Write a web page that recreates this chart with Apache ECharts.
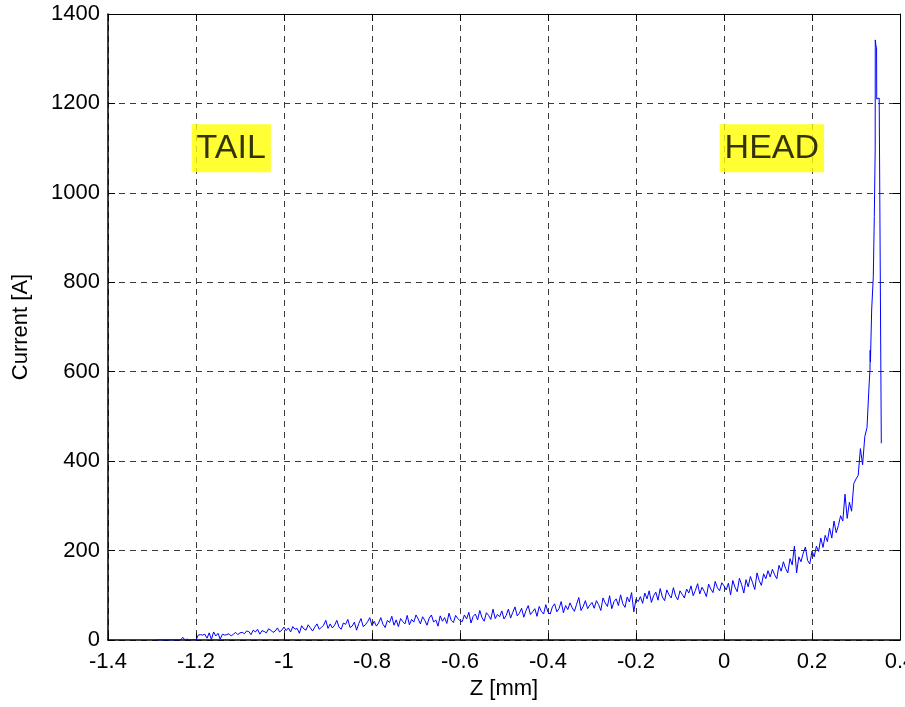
<!DOCTYPE html>
<html>
<head>
<meta charset="utf-8">
<title>Current profile along Z</title>
<script src="https://cdn.jsdelivr.net/npm/echarts@6/dist/echarts.min.js"></script>
<style>
  html, body { margin: 0; padding: 0; background: #fff; }
  #chart { width: 905px; height: 707px; }
</style>
</head>
<body>
<div id="chart"></div>
<script>
// Regularly sampled part of the profile: Z from -1.29 mm in steps of 0.005 mm
const zStart = -1.29;
const zStep = 0.005;
const currentSampled = [
  // -1.290 .. -1.200
  0, 0, 0, 0, 0, 0, 0, 0, 0, 0, 0, 0, 6, 0, 2, 0, 0, 1, 0,
  // -1.195 .. -1.100
  11, 12, 11, 13, 4, 16, 1, 18, 9, 15, 2, 13, 11, 12, 14, 9, 13, 17, 12, 16,
  // -1.095 .. -1.000
  17, 14, 20, 19, 12, 22, 18, 24, 13, 21, 19, 16, 25, 22, 17, 20, 27, 18, 22, 29,
  // -0.995 .. -0.900
  21, 27, 18, 30, 24, 26, 15, 32, 25, 22, 34, 27, 20, 29, 36, 24, 28, 33, 44, 26,
  // -0.895 .. -0.800
  36, 27, 33, 44, 29, 24, 38, 35, 46, 28, 31, 40, 22, 37, 48, 30, 34, 41, 50, 32,
  // -0.795 .. -0.700
  42, 31, 38, 50, 35, 28, 44, 39, 53, 33, 45, 30, 48, 41, 36, 55, 34, 46, 40, 56,
  // -0.695 .. -0.600
  47, 36, 52, 44, 33, 49, 56, 40, 45, 31, 54, 42, 50, 37, 60, 44, 39, 55, 48, 43,
  // -0.595 .. -0.500
  41, 56, 47, 62, 38, 53, 58, 45, 66, 50, 42, 61, 55, 46, 69, 48, 57, 52, 65, 47,
  // -0.495 .. -0.400
  55, 69, 49, 62, 74, 54, 60, 71, 51, 66, 77, 57, 63, 70, 53, 75, 64, 58, 79, 62,
  // -0.395 .. -0.300
  58, 74, 81, 63, 70, 86, 61, 77, 68, 83, 72, 64, 80, 95, 66, 75, 88, 70, 78, 84,
  // -0.295 .. -0.200
  71, 88, 79, 66, 94, 83, 75, 99, 70, 86, 92, 77, 101, 81, 73, 96, 85, 106, 63, 92,
  // -0.195 .. -0.100
  86, 97, 82, 105, 92, 110, 84, 99, 107, 89, 115, 96, 88, 112, 101, 94, 117, 98, 90, 110,
  // -0.095 .. 0.000
  102, 94, 114, 105, 121, 99, 111, 126, 103, 118, 109, 97, 125, 114, 106, 131, 117, 110, 128, 121,
  // 0.005 .. 0.100
  112, 127, 101, 133, 118, 108, 138, 124, 105, 135, 119, 142, 128, 113, 150, 133, 122, 148, 137, 155,
  // 0.105 .. 0.200
  141, 158, 146, 137, 167, 154, 175, 160, 150, 182, 168, 210, 150, 186, 175, 194, 208, 178, 170, 199,
  // 0.205 .. 0.300
  186, 210, 198, 228, 207, 234, 220, 250, 228, 266, 240, 256, 278, 266, 326, 272, 308, 288, 350, 360,
  // 0.305 .. 0.330
  368, 428, 392, 455, 475, 575
];

// Steep head of the profile, sampled irregularly
const zHead = [0.3318, 0.3322, 0.3328, 0.3356, 0.3393, 0.3416, 0.3436, 0.3438, 0.3452, 0.3468, 0.3471, 0.3527, 0.3575];
const currentHead = [604, 648, 622, 738, 812, 947, 1096, 1342, 1330, 1325, 1210, 1212, 440];

// Axis ranges and ticks
const zMin = -1.4, zMax = 0.4, zTick = 0.2;
const currentMin = 0, currentMax = 1400, currentTick = 200;

// Text annotations: [z, current, label]
const annotations = [
  [-1.21, 1100, 'TAIL'],
  [-0.01, 1100, 'HEAD']
];

const profile = [];
currentSampled.forEach((c, i) => {
  profile.push([+(zStart + i * zStep).toFixed(4), c]);
});
zHead.forEach((z, i) => profile.push([z, currentHead[i]]));

const FONT = '"Liberation Sans", Arial, Helvetica, sans-serif';
const fmt = v => String(+Number(v).toFixed(3));

const chart = echarts.init(document.getElementById('chart'), null, { renderer: 'canvas' });

const gridDash = { color: '#3a3a3a', width: 1, type: [6, 5] };
const boxLine = { color: '#000', width: 1 };

chart.setOption({
  animation: false,
  backgroundColor: '#ffffff',
  grid: { left: 108, right: 5, top: 14, bottom: 67, containLabel: false, outerBoundsMode: 'none' },
  xAxis: [
    {
      type: 'value', min: zMin, max: zMax, interval: zTick, position: 'bottom',
      axisLine: { onZero: false, lineStyle: { color: '#000', width: 1.5 } },
      axisTick: { inside: true, length: 7, lineStyle: { color: '#000' } },
      axisLabel: { color: '#000', fontSize: 22, fontFamily: FONT, margin: 11, formatter: fmt, hideOverlap: false },
      splitLine: { show: true, lineStyle: gridDash },
      name: 'Z [mm]', nameLocation: 'middle', nameGap: 37,
      nameTextStyle: { color: '#000', fontSize: 22, fontFamily: FONT }
    },
    {
      type: 'value', min: zMin, max: zMax, interval: zTick, position: 'top',
      axisLine: { onZero: false, lineStyle: boxLine },
      axisTick: { inside: true, length: 7, lineStyle: { color: '#000' } },
      axisLabel: { show: false },
      splitLine: { show: false }
    }
  ],
  yAxis: [
    {
      type: 'value', min: currentMin, max: currentMax, interval: currentTick, position: 'left',
      axisLine: { show: true, onZero: false, lineStyle: { color: '#000', width: 1.5 } },
      axisTick: { show: true, inside: true, length: 7, lineStyle: { color: '#000' } },
      axisLabel: { color: '#000', fontSize: 22, fontFamily: FONT, margin: 8, formatter: fmt },
      splitLine: { show: true, lineStyle: gridDash },
      name: 'Current [A]', nameLocation: 'middle', nameGap: 76,
      nameTextStyle: { color: '#000', fontSize: 22, fontFamily: FONT }
    },
    {
      type: 'value', min: currentMin, max: currentMax, interval: currentTick, position: 'right',
      axisLine: { show: true, onZero: false, lineStyle: boxLine },
      axisTick: { show: true, inside: true, length: 7, lineStyle: { color: '#000' } },
      axisLabel: { show: false },
      splitLine: { show: false }
    }
  ],
  series: [
    {
      type: 'line',
      data: profile,
      xAxisIndex: 0, yAxisIndex: 0,
      showSymbol: false,
      symbol: 'none',
      lineStyle: { color: '#0000ff', width: 1 },
      z: 3
    },
    {
      type: 'scatter',
      data: annotations,
      xAxisIndex: 0, yAxisIndex: 0,
      symbolSize: 0,
      silent: true,
      z: 4,
      label: {
        show: true,
        position: 'right',
        distance: 0,
        formatter: p => p.value[2],
        color: '#000',
        fontSize: 34,
        fontFamily: FONT,
        lineHeight: 36,
        backgroundColor: '#ffff00',
        padding: [6, 5, 6, 5]
      }
    }
  ]
});
</script>
</body>
</html>
